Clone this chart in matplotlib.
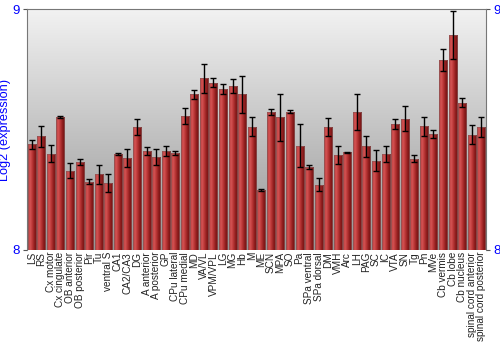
import numpy as np
import matplotlib
matplotlib.use("Agg")
import matplotlib.pyplot as plt
from matplotlib.colors import LinearSegmentedColormap

regions = ["LS", "RS", "Cx motor", "Cx cingulate", "OB anterior", "OB posterior", "Pir", "Tu",
           "ventral S", "CA1", "CA2/CA3", "DG", "A anterior", "A posterior", "GP", "CPu lateral",
           "CPu medial", "MD", "VA/VL", "VPM/VPL", "LG", "MG", "Hb", "M", "ME", "SCN", "MPA",
           "SO", "Pa", "SPa ventral", "SPa dorsal", "DM", "VMH", "Arc", "LH", "PAG", "SC", "IC",
           "VTA", "SN", "Tg", "Pn", "MVe", "Cb vermis", "Cb lobe", "Cb nucleus",
           "spinal cord anterior", "spinal cord posterior"]
expression = [8.438, 8.471, 8.400, 8.551, 8.329, 8.365, 8.284, 8.314,
              8.278, 8.398, 8.382, 8.511, 8.412, 8.386, 8.412, 8.402,
              8.556, 8.647, 8.713, 8.694, 8.670, 8.680, 8.647, 8.511, 8.248, 8.573, 8.551,
              8.573, 8.433, 8.344, 8.270, 8.511, 8.393, 8.405, 8.571, 8.430, 8.371, 8.398,
              8.523, 8.545, 8.379, 8.513, 8.482, 8.789, 8.892, 8.611,
              8.478, 8.510]
errors = [0.019, 0.043, 0.034, 0.005, 0.030, 0.012, 0.011, 0.039,
          0.036, 0.005, 0.037, 0.032, 0.016, 0.032, 0.020, 0.008,
          0.035, 0.019, 0.060, 0.018, 0.021, 0.028, 0.077, 0.040, 0.003, 0.011, 0.097,
          0.006, 0.089, 0.008, 0.027, 0.036, 0.037, 0.003, 0.075, 0.043, 0.042, 0.032,
          0.021, 0.051, 0.014, 0.040, 0.018, 0.046, 0.099, 0.019,
          0.039, 0.040]
y_min, y_max = 8, 9
y_ticks = [8, 9]

fig = plt.figure(figsize=(5, 3.5), dpi=100)
ax = fig.add_axes([0.054, 0.286, 0.918, 0.688])

x = np.arange(len(regions))
ax.set_xlim(-0.5, len(regions) - 0.5)
ax.set_ylim(y_min, y_max)

# background gradient
bg = LinearSegmentedColormap.from_list("bg", ["#959595", "#f2f2f2"])
grad = np.linspace(0, 1, 256).reshape(-1, 1)
ax.imshow(grad, cmap=bg, aspect="auto", origin="lower", extent=[0, 1, 0, 1],
          transform=ax.transAxes, zorder=0)

bars = ax.bar(x, [v - y_min for v in expression], bottom=y_min, width=0.84,
              color="none", edgecolor="none", zorder=2)
barcm = LinearSegmentedColormap.from_list("bar", ["#b83a3a", "#d45454", "#b83434", "#8c1c1c", "#6e1212"])
hgrad = np.linspace(0, 1, 64).reshape(1, -1)
for b in bars:
    x0, y0 = b.get_x(), b.get_y()
    w, h = b.get_width(), b.get_height()
    im = ax.imshow(hgrad, cmap=barcm, aspect="auto", extent=[x0, x0 + w, y0, y0 + h],
                   zorder=2, interpolation="bilinear")
    im.set_clip_path(b)
    ax.add_patch(plt.Rectangle((x0, y0), w, h, fill=False, edgecolor="#8a5a5a",
                               linewidth=0.5, zorder=2.5))
ax.set_xlim(-0.5, len(regions) - 0.5)
ax.set_ylim(y_min, y_max)

ax.errorbar(x, expression, yerr=errors, fmt="none", ecolor="black", elinewidth=1.0,
            capsize=2.2, capthick=1.0, zorder=3)

ax.set_xticks(x)
ax.set_xticklabels(regions, rotation=90, fontsize=7.2, family="Liberation Sans", color="#222222")
ax.tick_params(axis="x", length=0, pad=1.5)

ax.set_yticks(y_ticks)
ax.set_yticklabels([str(t) for t in y_ticks], fontsize=9.5, color="blue", family="Liberation Sans")
ax.tick_params(axis="y", which="both", left=True, right=True, labelleft=True, labelright=True,
               length=3, width=0.8, color="#555555", pad=2)
ax.set_ylabel("Log2 (expression)", color="blue", fontsize=9.2, family="Liberation Sans", labelpad=1)

for side in ["left", "right", "top"]:
    ax.spines[side].set_color("#777777")
    ax.spines[side].set_linewidth(0.8)
ax.spines["bottom"].set_visible(False)

fig.savefig("out.png", dpi=100)
